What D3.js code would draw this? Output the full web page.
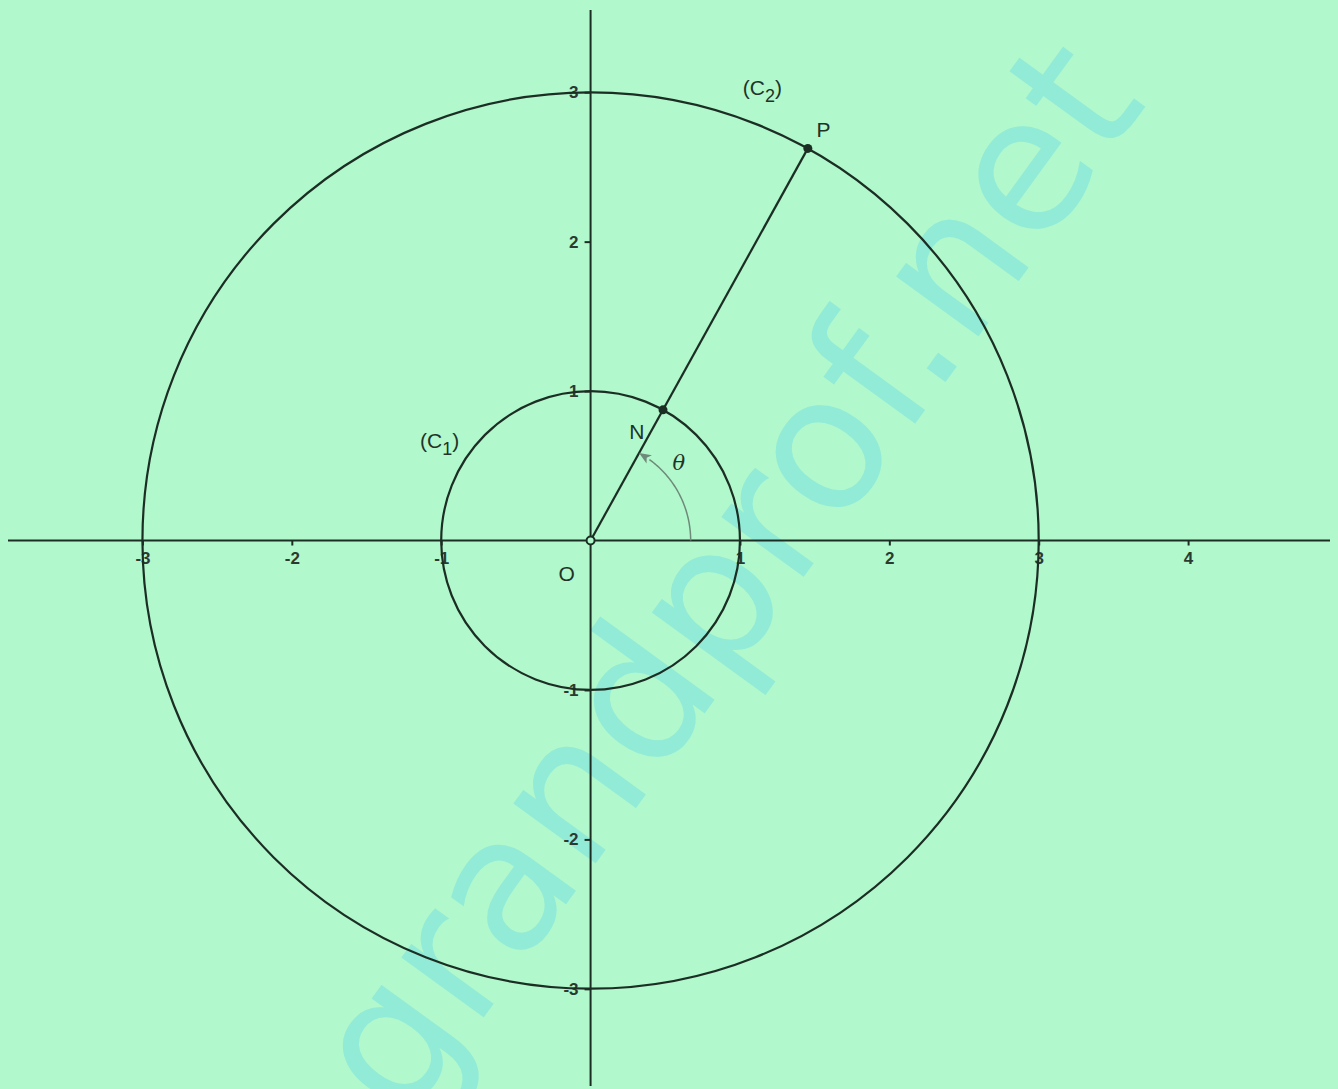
<!DOCTYPE html>
<html>
<head>
<meta charset="utf-8">
<script src="https://cdn.jsdelivr.net/npm/d3@7"></script>
<style>
	body { margin: 0; background: #b1f8cd; }
	svg { display: block; }
	.tick-label { font-family: "Liberation Sans", Arial, sans-serif; font-size: 17px; font-weight: bold; fill: #2b3a31; }
	.lbl { font-family: "Liberation Sans", Arial, sans-serif; font-size: 21px; fill: #1f3327; }
</style>
</head>
<body>
<script>
"use strict";

var W = 1338, H = 1089;

// axis ranges and ticks
var xDomain = [-3.9, 4.95];
var yDomain = [-3.65, 3.55];
var xTicks = [-3, -2, -1, 1, 2, 3, 4];
var yTicks = [-3, -2, -1, 1, 2, 3];

// circles (C1) r=1, (C2) r=3 centred on O
var radii = [1, 3];
var circleNames = ["1", "2"];
var theta = 61; // degrees

var svg = d3.select('body').append('svg').attr('width', W).attr('height', H);

var x = d3.scaleLinear().domain(xDomain).range([8, 1330]);
var y = d3.scaleLinear().domain(yDomain).range([1086, 10]);
var unit = x(1) - x(0);
var ink = '#1c2e23';
var fmt = function(d) { return String(d); }; // plain hyphen minus

// background
svg.append('rect').attr('width', W).attr('height', H).attr('fill', '#b1f8cd');

// watermark
svg.append('text').attr('transform', 'translate(735, 585) rotate(-54)').
	attr('text-anchor', 'middle').attr('dominant-baseline', 'middle').
	style('font-family', '"DejaVu Sans", sans-serif').style('font-size', '186px').
	attr('fill', '#8ce9d9').attr('opacity', 0.85).text('grandprof.net');

// axes
var xAxis = d3.axisBottom(x).tickValues(xTicks).tickSize(5).tickFormat(fmt);
var gx = svg.append('g').attr('transform', 'translate(0,' + y(0) + ')').call(xAxis);
gx.selectAll('.tick line').attr('stroke', ink).attr('stroke-width', 2);
gx.selectAll('.tick text').attr('class', 'tick-label').attr('dy', '0.9em').attr('fill', null);

var yAxis = d3.axisLeft(y).tickValues(yTicks).tickSize(6).tickFormat(fmt);
var gy = svg.append('g').attr('transform', 'translate(' + x(0) + ',0)').call(yAxis);
gy.selectAll('.tick line').attr('stroke', ink).attr('stroke-width', 2);
gy.selectAll('.tick text').attr('class', 'tick-label').attr('x', -12).attr('fill', null);
// extend axes to the full lengths (no end caps)
gx.select('.domain').attr('stroke', ink).attr('stroke-width', 2).attr('d', 'M' + x.range()[0] + ',0H' + x.range()[1]);
gy.select('.domain').attr('stroke', ink).attr('stroke-width', 2).attr('d', 'M0,' + y.range()[0] + 'V' + y.range()[1]);

// circles
svg.selectAll('circle.c').data(radii).enter().append('circle').attr('class', 'c').
	attr('cx', x(0)).attr('cy', y(0)).attr('r', function(d) { return d * unit; }).
	attr('fill', 'none').attr('stroke', ink).attr('stroke-width', 2.2);

// segment O -> P
var t = theta * Math.PI / 180;
svg.append('line').attr('x1', x(0)).attr('y1', y(0)).
	attr('x2', x(3 * Math.cos(t))).attr('y2', y(3 * Math.sin(t))).
	attr('stroke', ink).attr('stroke-width', 2.2);

// angle arc
var ra = 0.67;
var arcPts = d3.range(0, theta - 6, 1).map(function(a) {
	var r = a * Math.PI / 180;
	return [x(ra * Math.cos(r)), y(ra * Math.sin(r))];
});
svg.append('path').attr('d', d3.line()(arcPts)).attr('fill', 'none').
	attr('stroke', '#6f8a78').attr('stroke-width', 1.5);
var tip = [x(ra * Math.cos(t)), y(ra * Math.sin(t))];
var base = arcPts[arcPts.length - 1];
var ang = Math.atan2(tip[1] - base[1], tip[0] - base[0]);
svg.append('path').attr('transform', 'translate(' + tip[0] + ',' + tip[1] + ') rotate(' + (ang * 180 / Math.PI) + ')').
	attr('d', 'M0,0L-12,-5L-9,0L-12,5Z').attr('fill', '#6f8a78');

// points
svg.append('circle').attr('cx', x(0)).attr('cy', y(0)).attr('r', 4).
	attr('fill', '#b1f8cd').attr('stroke', ink).attr('stroke-width', 2);
svg.selectAll('circle.p').data(radii).enter().append('circle').attr('class', 'p').
	attr('cx', function(d) { return x(d * Math.cos(t)); }).
	attr('cy', function(d) { return y(d * Math.sin(t)); }).
	attr('r', 4.5).attr('fill', ink);

// labels
svg.append('text').attr('class', 'lbl').attr('x', x(-0.16)).attr('y', y(-0.27)).attr('text-anchor', 'middle').text('O');
svg.append('text').attr('class', 'lbl').attr('x', x(0.31)).attr('y', y(0.68)).attr('text-anchor', 'middle').text('N');
svg.append('text').attr('class', 'lbl').attr('x', x(1.56)).attr('y', y(2.7)).attr('text-anchor', 'middle').text('P');
svg.append('text').attr('class', 'lbl').attr('x', x(0.59)).attr('y', y(0.47)).
	attr('text-anchor', 'middle').style('font-style', 'italic').style('font-family', '"DejaVu Serif", serif').text('θ');

var cLabels = [[-1.01, 0.62], [1.15, 2.98]];
cLabels.forEach(function(p, i) {
	var tx = svg.append('text').attr('class', 'lbl').attr('x', x(p[0])).attr('y', y(p[1])).attr('text-anchor', 'middle');
	tx.append('tspan').text('(C');
	tx.append('tspan').attr('dy', 7).style('font-size', '18px').text(circleNames[i]);
	tx.append('tspan').attr('dy', -7).text(')');
});
</script>
</body>
</html>
